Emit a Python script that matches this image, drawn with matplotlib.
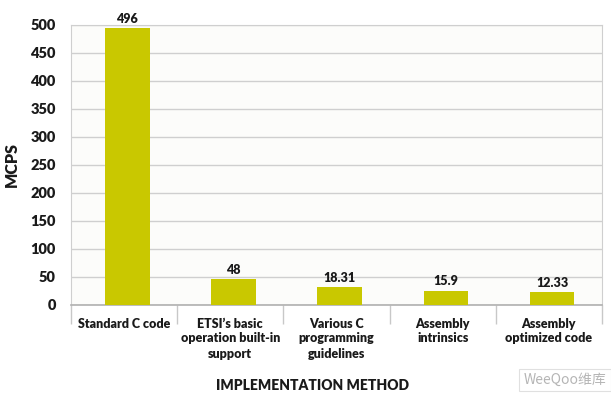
import matplotlib
matplotlib.use("Agg")
import matplotlib.pyplot as plt
import numpy as np

categories = ["Standard C code", "ETSI\u2019s basic\noperation built-in\nsupport",
              "Various C\nprogramming\nguidelines", "Assembly\nintrinsics",
              "Assembly\noptimized code"]
bar_heights = [494, 46, 31.5, 25.5, 22.7]
value_labels = ["496", "48", "18.31", "15.9", "12.33"]
y_ticks = [0, 50, 100, 150, 200, 250, 300, 350, 400, 450, 500]

plt.rcParams['font.family'] = ['Lato', 'DejaVu Sans']
WT = "heavy"
W, H = 611, 398
fig = plt.figure(figsize=(W / 100, H / 100), dpi=100)
fig.patch.set_facecolor("white")
ax = fig.add_axes([71 / W, 1 - 305 / H, (602 - 71) / W, (305 - 25) / H])
ax.set_facecolor("#fcfcfa")

x = np.arange(len(categories))
bars = ax.bar(x + 0.03, bar_heights, width=0.42, color="#c9c800", zorder=3)
for xi, h, lab in zip(x, bar_heights, value_labels):
    ax.text(xi + 0.03, h + 6, lab, ha="center", va="bottom", fontsize=9,
            fontweight=WT, color="#1a1a1a")

ax.set_xlim(-0.5, len(categories) - 0.5)
ax.set_ylim(0, 500)
ax.set_yticks(y_ticks)
ax.set_yticklabels([str(v) for v in y_ticks], fontsize=10.5, fontweight=WT, color="#1a1a1a")
ax.tick_params(axis="y", length=0, pad=11)
ax.yaxis.grid(True, color="#cfcfcf", linewidth=1.0, zorder=0)
ax.set_axisbelow(True)

# category separators
ax.set_xticks(np.arange(len(categories) + 1) - 0.5)
ax.set_xticklabels([])
ax.tick_params(axis="x", length=14, width=1, color="#c8c8c8", direction="out")
ax.set_xticks(x, minor=True)
ax.set_xticklabels(categories, minor=True, fontsize=9, fontweight=WT,
                   color="#1a1a1a", linespacing=1.3)
ax.tick_params(axis="x", which="minor", length=0, pad=9)
for lab in ax.get_xticklabels(minor=True):
    lab.set_va("top")

for s in ["top", "right", "left"]:
    ax.spines[s].set_color("#cfcfcf")
ax.spines["bottom"].set_color("#b0b0b0")
ax.spines["bottom"].set_linewidth(1.2)

fig.text(313 / W, 1 - 385 / H, "IMPLEMENTATION METHOD", ha="center", va="center",
         fontsize=10, fontweight=WT, color="#1a1a1a")
fig.text(12 / W, 1 - 165 / H, "MCPS", ha="center", va="center", rotation=90,
         fontsize=11.5, fontweight=WT, color="#1a1a1a")

fig.text(565 / W, 1 - 380 / H, "WeeQoo维库", ha="center", va="center", fontsize=10,
         style="italic", color="#b5b5b5",
         family=["Noto Sans CJK SC", "DejaVu Sans"],
         bbox=dict(boxstyle="square,pad=0.3", fc="white", ec="#e0e0e0", lw=0.8))

fig.savefig("out.png", dpi=100)
